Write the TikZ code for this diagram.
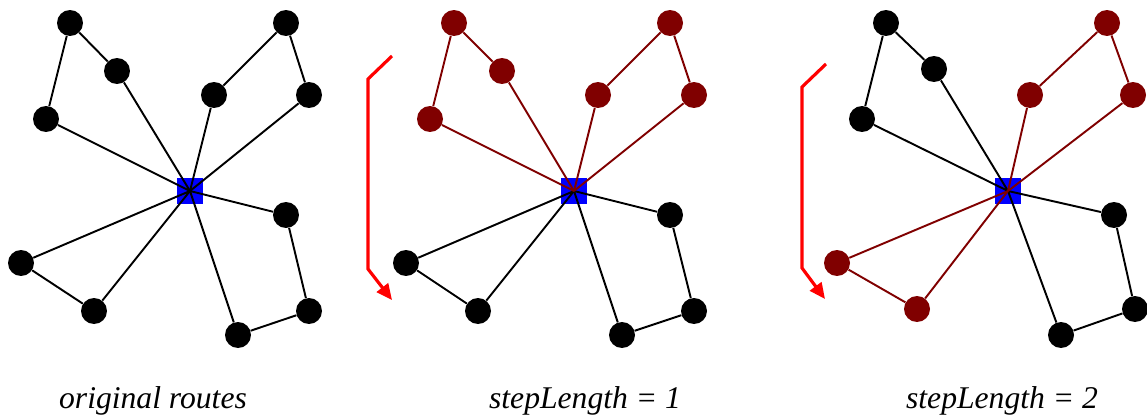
\documentclass[tikz,border=0pt]{standalone}
\usepackage{fontspec}
\setmainfont{Liberation Serif}
\usetikzlibrary{arrows.meta}

\definecolor{darkred}{HTML}{800000}
\tikzset{
  cust/.style={circle, fill=black, minimum size=0.52cm, inner sep=0pt},
  custred/.style={cust, fill=darkred},
  depot/.style={rectangle, fill=blue, minimum size=0.52cm, inner sep=0pt},
  route/.style={line width=1.1pt, black},
  routered/.style={line width=1.1pt, darkred},
  movearrow/.style={line width=1.8pt, red, -{Triangle[length=9pt, width=8pt]}},
  caption/.style={font=\fontsize{18}{20}\selectfont\itshape, anchor=base}
}

\begin{document}
\begin{tikzpicture}[x=0.02cm, y=-0.02cm]
		\useasboundingbox (0,0) rectangle (1147,419);
		% original routes
		\node[depot] (d1) at (190,191) {};
		\node[cust] (a11) at (70,23) {};
		\node[cust] (a12) at (117,71) {};
		\node[cust] (a13) at (46,119) {};
		\node[cust] (b11) at (286,23) {};
		\node[cust] (b12) at (309,95) {};
		\node[cust] (b13) at (214,95) {};
		\node[cust] (c11) at (286,215) {};
		\node[cust] (c12) at (309,311) {};
		\node[cust] (c13) at (238,335) {};
		\node[cust] (e11) at (21,263) {};
		\node[cust] (e12) at (94,311) {};
		\draw[route] (d1.center) -- (a12) -- (a11) -- (a13) -- (d1.center);
		\draw[route] (d1.center) -- (b13) -- (b11) -- (b12) -- (d1.center);
		\draw[route] (d1.center) -- (c11) -- (c12) -- (c13) -- (d1.center);
		\draw[route] (d1.center) -- (e11) -- (e12) -- (d1.center);
		\node[caption] (cap1) at (153,408) {original routes};
		% stepLength = 1
		\node[depot] (d2) at (574,191) {};
		\node[custred] (a21) at (454,23) {};
		\node[custred] (a22) at (502,71) {};
		\node[custred] (a23) at (430,119) {};
		\node[custred] (b21) at (670,23) {};
		\node[custred] (b22) at (694,95) {};
		\node[custred] (b23) at (598,95) {};
		\node[cust] (c21) at (670,215) {};
		\node[cust] (c22) at (694,311) {};
		\node[cust] (c23) at (622,335) {};
		\node[cust] (e21) at (406,263) {};
		\node[cust] (e22) at (478,311) {};
		\draw[route] (d2.center) -- (c21) -- (c22) -- (c23) -- (d2.center);
		\draw[route] (d2.center) -- (e21) -- (e22) -- (d2.center);
		\draw[routered] (d2.center) -- (a22) -- (a21) -- (a23) -- (d2.center);
		\draw[routered] (d2.center) -- (b23) -- (b21) -- (b22) -- (d2.center);
		\coordinate (s2) at (392,56);
		\coordinate (t2) at (392,300);
		\draw[movearrow] (s2) -- (368,79) -- (368,269) -- (t2);
		\node[caption] (cap2) at (585,408) {stepLength = 1};
		% stepLength = 2
		\node[depot] (d3) at (1008,191) {};
		\node[cust] (a31) at (886,23) {};
		\node[cust] (a32) at (934,69) {};
		\node[cust] (a33) at (862,119) {};
		\node[custred] (b31) at (1107,23) {};
		\node[custred] (b32) at (1133,95) {};
		\node[custred] (b33) at (1030,95) {};
		\node[cust] (c31) at (1114,215) {};
		\node[cust] (c32) at (1135,309) {};
		\node[cust] (c33) at (1061,335) {};
		\node[custred] (e31) at (837,263) {};
		\node[custred] (e32) at (917,309) {};
		\draw[route] (d3.center) -- (a32) -- (a31) -- (a33) -- (d3.center);
		\draw[route] (d3.center) -- (c31) -- (c32) -- (c33) -- (d3.center);
		\draw[routered] (d3.center) -- (b33) -- (b31) -- (b32) -- (d3.center);
		\draw[routered] (d3.center) -- (e31) -- (e32) -- (d3.center);
		\coordinate (s3) at (826,64);
		\coordinate (t3) at (825,299);
		\draw[movearrow] (s3) -- (802,87) -- (802,268) -- (t3);
		\node[caption] (cap3) at (1002,408) {stepLength = 2};
	\end{tikzpicture}
\end{document}
